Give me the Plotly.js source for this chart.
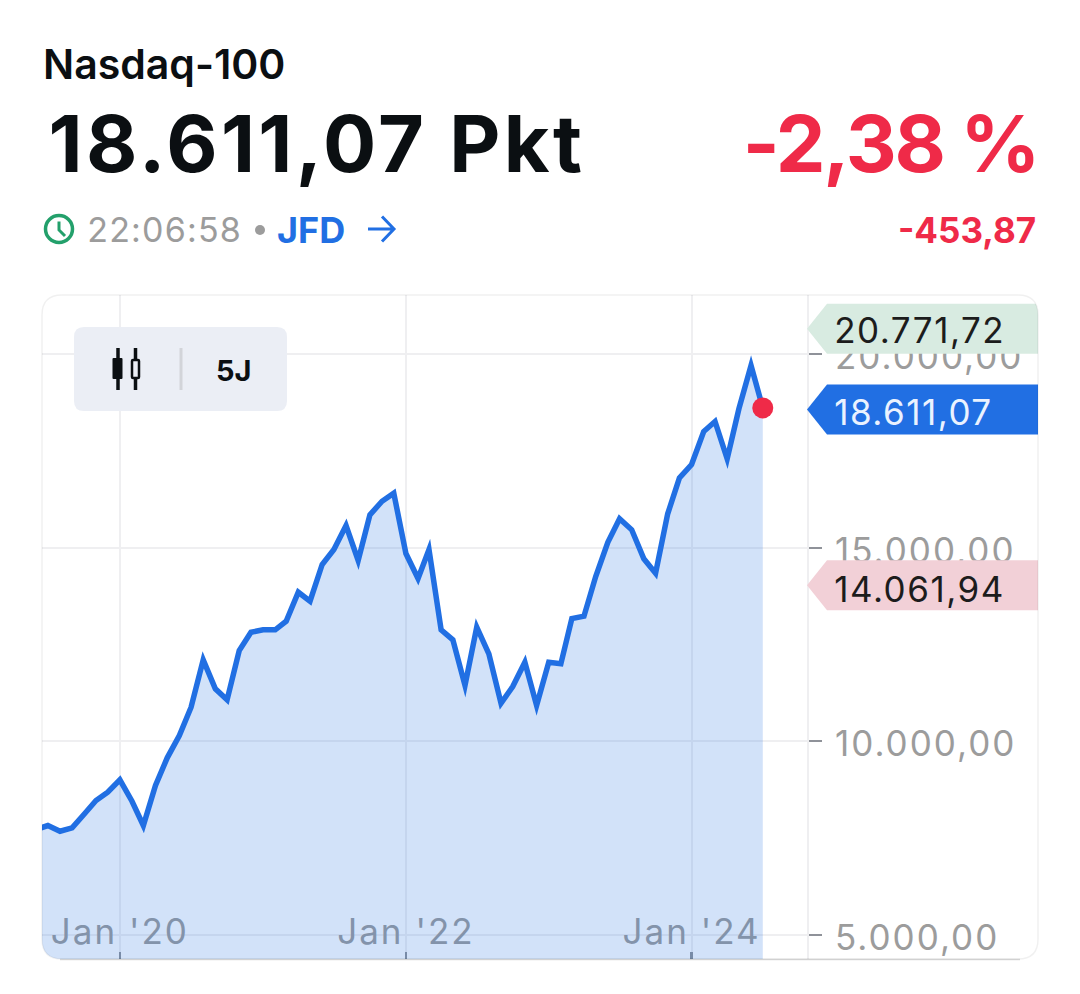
<!DOCTYPE html>
<html><head><meta charset="utf-8">
<script src="https://cdn.plot.ly/plotly-3.0.1.min.js"></script>
<style>html,body{margin:0;padding:0;background:#fff;overflow:hidden}#chart{width:1080px;height:994px}
.scatterlayer .js-line{stroke-linejoin:miter!important;stroke-miterlimit:6!important}
.xtick text,.ytick text{letter-spacing:2px}
.annotation[data-index="0"] text{letter-spacing:3.3px}
.annotation[data-index="1"] text{letter-spacing:-2.2px}
.annotation[data-index="2"] text{letter-spacing:1.2px}
.annotation[data-index="6"] text,.annotation[data-index="7"] text,.annotation[data-index="8"] text{letter-spacing:1.5px}
</style>
</head><body><div id="chart"></div>
<script>
const dates = ['2019-06-01','2019-07-01','2019-08-01','2019-09-01','2019-10-01','2019-11-01','2019-12-01',
'2020-01-01','2020-02-01','2020-03-01','2020-04-01','2020-05-01','2020-06-01','2020-07-01','2020-08-01','2020-09-01','2020-10-01','2020-11-01','2020-12-01',
'2021-01-01','2021-02-01','2021-03-01','2021-04-01','2021-05-01','2021-06-01','2021-07-01','2021-08-01','2021-09-01','2021-10-01','2021-11-01','2021-12-01',
'2022-01-01','2022-02-01','2022-03-01','2022-04-01','2022-05-01','2022-06-01','2022-07-01','2022-08-01','2022-09-01','2022-10-01','2022-11-01','2022-12-01',
'2023-01-01','2023-02-01','2023-03-01','2023-04-01','2023-05-01','2023-06-01','2023-07-01','2023-08-01','2023-09-01','2023-10-01','2023-11-01','2023-12-01',
'2024-01-01','2024-02-01','2024-03-01','2024-04-01','2024-05-01','2024-06-01','2024-07-01'];
const values = [7714,7817,7670,7758,8101,8463,8678,
8998,8445,7817,8851,9567,10143,10875,12100,11351,11066,12341,12814,
12876,12876,13098,13848,13615,14564,14951,15572,14667,15848,16200,16407,
14848,14202,14951,12876,12617,11436,12943,12255,10978,11410,12038,10919,
12038,11997,13168,13227,14253,15140,15745,15461,14711,14339,15874,16805,
17149,18002,18260,17296,18589,19708,18611.07];
const xTickVals = ['2020-01-01','2022-01-01','2024-01-01'];
const xTickText = ["Jan '20","Jan '22","Jan '24"];
const yTickVals = [5000,10000,15000,20000];
const highValue = 20771.72, lastValue = 18611.07, lowValue = 14061.94;

const BLUE='#216FE3', RED='#EF2A48', GREY='#9C9C9C', INK='#0B0F12', GREEN='#23A06B';
const FF='Inter, "Liberation Sans", sans-serif';
const L=42,R=807,T=295,B=959;
const px=x=>(x-L)/(R-L), py=y=>(B-y)/(B-T);
const P=(x,y)=>px(x)+','+py(y);

const note=(text,x,y,size,color,anchor,weight)=>({text:text,xref:'paper',yref:'paper',x:px(x),y:py(y),
  xanchor:anchor||'left',yanchor:'middle',showarrow:false,borderpad:0,font:{family:FF,size:size,color:color,weight:weight||400}});
const tagNote=(text,val,dy,color)=>({text:text,xref:'paper',yref:'y',x:px(840),y:val,yshift:dy,xanchor:'left',yanchor:'middle',
  showarrow:false,borderpad:0,font:{family:FF,size:35,color:color}});
const tag=(val,dy,color)=>{const t=dy+25,b=dy-25,m=dy;return {type:'path',xref:'paper',yref:'y',xsizemode:'pixel',ysizemode:'pixel',
  xanchor:1,yanchor:val,path:`M0,${m} L20,${t} L231,${t} L231,${b} L20,${b} Z`,fillcolor:color,line:{width:0},layer:'above'};};
const ppath=(d,o)=>Object.assign({type:'path',xref:'paper',yref:'paper',path:d,layer:'above',line:{width:0}},o);
const seg=(x0,y0,x1,y1,color,w)=>ppath(`M${P(x0,y0)} L${P(x1,y1)}`,{line:{color:color,width:w}});
const rrect=(x0,y0,x1,y1,r)=>`M${P(x0+r,y0)} L${P(x1-r,y0)} Q${P(x1,y0)} ${P(x1,y0+r)} L${P(x1,y1-r)} Q${P(x1,y1)} ${P(x1-r,y1)} L${P(x0+r,y1)} Q${P(x0,y1)} ${P(x0,y1-r)} L${P(x0,y0+r)} Q${P(x0,y0)} ${P(x0+r,y0)} Z`;

const shapes=[
  tag(highValue,-4.4,'#D8EBE1'),
  tag(lastValue,-1.6,BLUE),
  tag(lowValue,-1.3,'#F2D0D7'),
  // control panel
  ppath(rrect(74,327,287,411,10),{fillcolor:'#EBEEF5'}),
  seg(118,348,118,390,'#0B0F12',3.5),
  ppath(rrect(112.5,358,122.5,379,1),{fillcolor:'#0B0F12'}),
  seg(135.5,348,135.5,360,'#0B0F12',3.5),
  seg(135.5,378,135.5,390,'#0B0F12',3.5),
  ppath(rrect(132,360,139,378,1),{fillcolor:'#EBEEF5',line:{color:'#0B0F12',width:2.5}}),
  seg(181,348,181,390,'#D2D4D9',3),
  // mask outside of card
  ppath(`M${P(-5,-5)} L${P(1085,-5)} L${P(1085,999)} L${P(-5,999)} Z `+rrect(42,295,1038,959,20),{fillcolor:'#FFFFFF',fillrule:'evenodd'}),
  ppath(rrect(42,295,1038,959,20),{line:{color:'rgba(0,0,0,0.06)',width:1.5},fillcolor:'rgba(0,0,0,0)'}),
  seg(60,959.5,1020,959.5,'rgba(0,0,0,0.14)',1.5),
  // clock
  {type:'circle',xref:'paper',yref:'paper',x0:px(45.5),x1:px(72.5),y0:py(215.5),y1:py(242.5),line:{color:GREEN,width:3.5},layer:'above'},
  ppath(`M${P(59,221.5)} L${P(59,230)} L${P(65,236)}`,{line:{color:GREEN,width:3}}),
  // arrow
  ppath(`M${P(368,229)} L${P(394,229)} M${P(382,216.5)} L${P(394,229)} L${P(382,241.5)}`,{line:{color:BLUE,width:3}}),
  // bullet
  {type:'circle',xref:'paper',yref:'paper',x0:px(255),x1:px(265),y0:py(225),y1:py(235),fillcolor:GREY,line:{width:0},layer:'above'}
];

const annotations=[
  note('18.611,07 Pkt',69,143,79,INK,'left',700),
  note('-2,38 %',1046.5,143,79,RED,'right',700),
  note('22:06:58',91,230,34,GREY),
  note('JFD',276,230,36,BLUE,'left',700),
  note('-453,87',1037,230,35,RED,'right',700),
  note('5J',234,370,29,INK,'center',700),
  tagNote('20.771,72',highValue,-5.4,'#1C1C1C'),
  tagNote('18.611,07',lastValue,-4,'#EAF2FF'),
  tagNote('14.061,94',lowValue,-4.8,'#1C1C1C')
];

const traces=[
 {type:'scatter',mode:'lines',x:dates,y:values,fill:'tozeroy',fillcolor:'rgba(33,111,227,0.205)',
  line:{color:BLUE,width:5.5,shape:'linear'},hoverinfo:'skip'},
 {type:'scatter',mode:'markers',x:[dates[dates.length-1]],y:[lastValue],marker:{color:RED,size:21,line:{width:0}},hoverinfo:'skip',cliponaxis:false}
];

const layout={width:1080,height:994,margin:{l:L,r:1080-R,t:T,b:994-B,pad:0},
 paper_bgcolor:'#fff',plot_bgcolor:'#fff',showlegend:false,separators:',.',hovermode:false,
 title:{text:'Nasdaq-100',xref:'paper',yref:'container',x:px(43),xanchor:'left',y:1-65/994,yanchor:'middle',pad:{l:0,r:0,t:0,b:0},
        font:{family:FF,size:41,color:INK,weight:600}},
 xaxis:{type:'date',range:['2019-06-16','2024-10-22'],tickmode:'array',tickvals:xTickVals,ticktext:xTickText,layer:'below traces',
   showgrid:true,gridcolor:'#EFEFF1',gridwidth:2,ticks:'inside',ticklen:7,tickwidth:2.5,tickcolor:'#8F9299',
   ticklabelstandoff:-51,tickfont:{family:FF,size:35,color:GREY},showline:false,zeroline:false,fixedrange:true},
 yaxis:{side:'right',range:[4367,21530],tickmode:'array',tickvals:yTickVals,tickformat:',.2f',
   showgrid:true,gridcolor:'#EFEFF1',gridwidth:2,ticks:'outside',ticklen:13,tickwidth:2,tickcolor:'#8F9299',
   ticklabelstandoff:6,ticklabelshift:3,tickfont:{family:FF,size:35,color:GREY},showline:true,linecolor:'#EFEFF1',linewidth:2,zeroline:false,fixedrange:true},
 shapes:shapes,annotations:annotations};
Plotly.newPlot('chart',traces,layout,{staticPlot:true,displayModeBar:false,responsive:false});
</script></body></html>
